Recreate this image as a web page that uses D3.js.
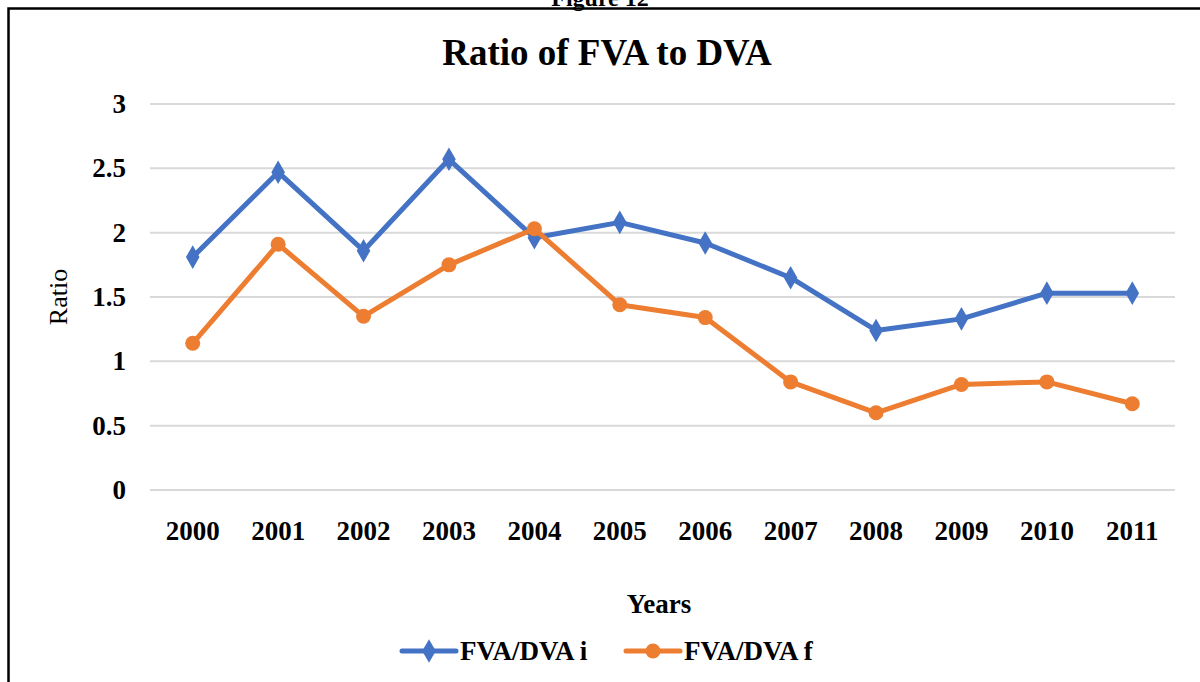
<!DOCTYPE html>
<meta charset="utf-8">
<style>
body { margin: 0; background: #fff; }
text { font-family: "Liberation Serif", "Times New Roman", serif; fill: #000; }
.grid line { stroke: #d9d9d9; stroke-width: 2px; }
.axis text { font-size: 27px; font-weight: bold; }
</style>
<svg width="1200" height="682"></svg>
<script src="https://d3js.org/d3.v7.min.js"></script>
<script>

var years = ["2000","2001","2002","2003","2004","2005","2006","2007","2008","2009","2010","2011"];
var fvaI = [1.81, 2.47, 1.86, 2.57, 1.96, 2.08, 1.92, 1.65, 1.24, 1.33, 1.53, 1.53];
var fvaF = [1.14, 1.91, 1.35, 1.75, 2.03, 1.44, 1.34, 0.84, 0.60, 0.82, 0.84, 0.67];
var yTicks = [0, 0.5, 1, 1.5, 2, 2.5, 3];

var svg = d3.select("svg");

// page frame, runs off the right and bottom edges
svg.append("rect")
    .attr("x", 8.5).attr("y", 8.5)
    .attr("width", 1300).attr("height", 800)
    .attr("fill", "none").attr("stroke", "#000").attr("stroke-width", 2.5);

svg.append("text")
    .attr("x", 600).attr("y", 6)
    .attr("text-anchor", "middle")
    .style("font-size", "24px").style("font-weight", "bold")
    .text("Figure 12");

svg.append("text")
    .attr("x", 607).attr("y", 65)
    .attr("text-anchor", "middle")
    .style("font-size", "37px").style("font-weight", "bold")
    .text("Ratio of FVA to DVA");

var x = d3.scalePoint().domain(years).range([150, 1175]).padding(0.5);
var y = d3.scaleLinear().domain([0, 3]).range([490, 104]);

svg.append("g")
    .attr("class", "grid")
    .selectAll("line")
    .data(yTicks)
    .enter().append("line")
      .attr("x1", 150).attr("x2", 1175)
      .attr("y1", d => y(d)).attr("y2", d => y(d));

svg.append("g")
    .attr("class", "axis")
    .selectAll("text")
    .data(yTicks)
    .enter().append("text")
      .attr("x", 126)
      .attr("y", d => y(d) + 9)
      .attr("text-anchor", "end")
      .text(d => d);

svg.append("g")
    .attr("class", "axis")
    .selectAll("text")
    .data(years)
    .enter().append("text")
      .attr("x", d => x(d))
      .attr("y", 540)
      .attr("text-anchor", "middle")
      .text(d => d);

svg.append("text")
    .attr("transform", "translate(67,297) rotate(-90)")
    .attr("text-anchor", "middle")
    .style("font-size", "26px")
    .text("Ratio");

svg.append("text")
    .attr("x", 659).attr("y", 613)
    .attr("text-anchor", "middle")
    .style("font-size", "27px").style("font-weight", "bold")
    .text("Years");

var line = d3.line()
    .x((d, i) => x(years[i]))
    .y(d => y(d));

var diamond = d3.symbol().type(d3.symbolDiamond).size(160);

var series = [
  {name: "FVA/DVA i", values: fvaI, color: "#4472C4", marker: "diamond"},
  {name: "FVA/DVA f", values: fvaF, color: "#ED7D31", marker: "circle"}
];

series.forEach(function(s) {
  svg.append("path")
      .datum(s.values)
      .attr("fill", "none")
      .attr("stroke", s.color)
      .attr("stroke-width", 5)
      .attr("stroke-linejoin", "round")
      .attr("d", line);

  var g = svg.append("g");
  if (s.marker == "diamond") {
    g.selectAll("path")
      .data(s.values)
      .enter().append("path")
        .attr("d", diamond)
        .attr("fill", s.color)
        .attr("transform", (d, i) => "translate(" + x(years[i]) + "," + y(d) + ")");
  } else {
    g.selectAll("circle")
      .data(s.values)
      .enter().append("circle")
        .attr("cx", (d, i) => x(years[i]))
        .attr("cy", d => y(d))
        .attr("r", 7.5)
        .attr("fill", s.color);
  }
});

// legend
var legend = svg.append("g")
    .selectAll("g")
    .data(series)
    .enter().append("g")
      .attr("transform", (d, i) => "translate(" + (402 + i * 224) + ",651)");

legend.append("line")
    .attr("x1", 0).attr("x2", 54)
    .attr("stroke", d => d.color)
    .attr("stroke-width", 5)
    .attr("stroke-linecap", "round");

legend.each(function(d) {
  var g = d3.select(this);
  if (d.marker == "diamond") {
    g.append("path").attr("d", diamond).attr("fill", d.color).attr("transform", "translate(27,0)");
  } else {
    g.append("circle").attr("cx", 27).attr("r", 7.5).attr("fill", d.color);
  }
});

legend.append("text")
    .attr("x", 58).attr("y", 9)
    .style("font-size", "27px").style("font-weight", "bold")
    .text(d => d.name);

</script>
